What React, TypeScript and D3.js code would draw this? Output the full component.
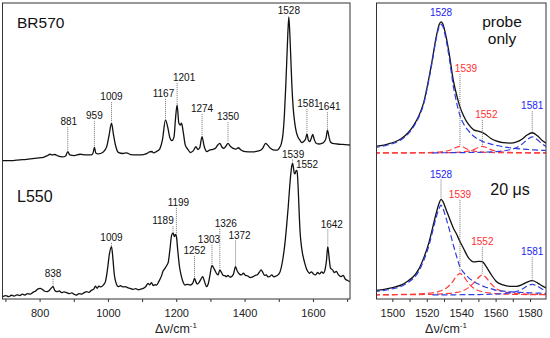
import React from 'react';
import * as d3 from 'd3';

// ---------------- Left panel data ----------------
const brWavenumber = [690, 720, 760, 790, 810, 822, 829, 836, 843, 852, 865, 875, 881, 887, 900, 917, 935, 950, 955, 959, 963, 970, 985, 995, 1002, 1009, 1015, 1022, 1030, 1042, 1053, 1065, 1080, 1095, 1110, 1120, 1127, 1132, 1140, 1150, 1158, 1167, 1174, 1180, 1186, 1192, 1196, 1201, 1206, 1210, 1214, 1219, 1225, 1232, 1240, 1248, 1256, 1262, 1267, 1274, 1280, 1288, 1296, 1306, 1314, 1320, 1326, 1332, 1338, 1344, 1350, 1356, 1365, 1373, 1380, 1388, 1400, 1420, 1440, 1452, 1460, 1466, 1475, 1485, 1494, 1500, 1506, 1511, 1515, 1519, 1522, 1525, 1528, 1531, 1534, 1537, 1541, 1545, 1550, 1555, 1560, 1566, 1573, 1577, 1581, 1585, 1589, 1593, 1598, 1602, 1607, 1615, 1625, 1632, 1637, 1641, 1645, 1650, 1656, 1670, 1685, 1707];
const brIntensity = [0.2, 0.3, 1.2, 2, 2.6, 3.8, 4.7, 4.2, 4.5, 3.5, 2.8, 3.5, 6.5, 4.2, 3.8, 4.7, 4.2, 4.2, 5.6, 9.5, 5.6, 4.9, 6.3, 10, 18, 26.2, 18, 9.7, 5.8, 5.2, 5.6, 4.5, 4.2, 4.2, 4.9, 6.3, 6.6, 5.6, 6.5, 8.3, 14.6, 28.5, 23, 16, 14.1, 16.7, 28.5, 38.9, 26.4, 25, 26.2, 20, 11, 8.3, 5.9, 7, 9.9, 8, 9, 16.9, 10.4, 6.5, 7.6, 8.1, 9, 11.1, 12.3, 9.7, 8.8, 10.4, 12.3, 10.4, 8.8, 8.3, 9.2, 7.6, 6.5, 6.3, 7, 9, 12.3, 11, 8.7, 7.6, 7.6, 9, 12, 19, 32, 52, 70, 88, 100, 88, 70, 52, 36, 27, 20, 16.5, 14.6, 12.8, 13.9, 15.3, 18.8, 14.6, 13.4, 15.3, 18.4, 15.3, 12.5, 11.8, 12.2, 13.4, 16, 21.5, 17.4, 13.2, 12.3, 11.8, 11.5, 11.1];

const l550Wavenumber = [690, 700, 708, 716, 724, 732, 741, 748, 756, 763, 771, 779, 786, 793, 800, 806, 812, 820, 826, 832, 838, 843, 849, 856, 863, 870, 878, 886, 893, 900, 907, 914, 922, 929, 936, 943, 950, 957, 962, 967, 972, 978, 985, 991, 997, 1003, 1009, 1013, 1017, 1022, 1029, 1035, 1042, 1049, 1056, 1064, 1072, 1080, 1088, 1095, 1102, 1110, 1116, 1121, 1126, 1131, 1137, 1141, 1148, 1155, 1160, 1166, 1171, 1175, 1180, 1185, 1189, 1193, 1196, 1199, 1203, 1208, 1214, 1219, 1224, 1231, 1239, 1245, 1249, 1252, 1256, 1260, 1265, 1270, 1276, 1281, 1287, 1292, 1297, 1303, 1307, 1311, 1316, 1321, 1326, 1331, 1336, 1341, 1345, 1350, 1355, 1360, 1366, 1372, 1377, 1383, 1389, 1395, 1401, 1408, 1415, 1423, 1430, 1436, 1441, 1447, 1452, 1457, 1462, 1467, 1471, 1478, 1484, 1491, 1497, 1503, 1510, 1516, 1521, 1526, 1530, 1534, 1537, 1539, 1541, 1544, 1546, 1549, 1552, 1554, 1556, 1558, 1561, 1565, 1569, 1574, 1579, 1583, 1588, 1594, 1600, 1606, 1612, 1618, 1624, 1629, 1634, 1638, 1642, 1646, 1650, 1656, 1661, 1667, 1673, 1681, 1687, 1693, 1700, 1707];
const l550Intensity = [0.2, 1.0, 0.3, 1.2, 0.6, 1.5, 1.0, 2.0, 1.4, 2.4, 2.0, 3.2, 4.0, 5.5, 6.0, 5.4, 4.2, 3.7, 4.3, 6.0, 7.2, 4.5, 3.7, 4.2, 3.0, 3.6, 3.0, 2.4, 2.8, 1.8, 1.4, 2.4, 2.0, 3.0, 3.7, 3.2, 4.6, 5.5, 7.5, 6.0, 7.5, 7.0, 8.3, 10.5, 18.8, 30, 35, 27, 16, 10, 7.2, 7.8, 7, 7.2, 6.5, 6, 5.3, 5.8, 5, 5.5, 6, 7.5, 9.5, 8.5, 10, 8, 8.5, 8.3, 11, 14.5, 18, 20, 22, 24, 33, 43, 44.5, 42, 43.5, 42, 32, 21, 14, 10, 8.3, 8.8, 8.3, 9, 11, 13, 10.5, 9, 10, 12, 14.1, 11, 7.2, 9, 15, 22, 20.5, 18.8, 16.5, 15.3, 18.8, 17, 15, 14.8, 14.1, 15, 13.8, 14.1, 16, 21, 18, 16, 15.3, 16.5, 15, 14.6, 13.5, 14.1, 15, 15.5, 17, 18.8, 17, 15, 15.3, 14, 14.1, 15.3, 14, 14.6, 15.5, 18, 25.7, 36, 48, 62, 75, 86, 91.5, 93, 90.5, 86, 85.5, 87.5, 88, 82, 72, 60, 45, 35, 29, 24, 20, 18, 16.5, 17.5, 16, 15.3, 17, 16, 17.5, 16.5, 19, 25, 35, 27, 20, 18.8, 17, 17.8, 15.5, 14.1, 15, 12.5, 11.5, 10.6];

const brPeaks = [881, 959, 1009, 1167, 1201, 1274, 1350, 1528, 1581, 1641];
const brLabelLevel = [24.8, 29, 42.2, 44.5, 55.6, 34.1, 28.3, 102.4, 37.6, 35.2];
const brLabelShift = [1, 0, 0, -2, 7, 0, 0, 0, 1.5, 2];

const l550Peaks = [838, 1009, 1189, 1199, 1252, 1303, 1326, 1372, 1539, 1552, 1642];
const l550LabelLevel = [14, 39, 50.5, 63.3, 29.7, 37.6, 48.7, 40.6, 96.8, 89.4, 48.2];
const l550LabelShift = [0, 0, -10, 2, 0, -3, 6, 4, 0.5, 10, 4];
const l550LabelLine = [true, true, true, true, true, true, true, true, true, false, true];

const leftMajorTicks = [800, 1000, 1200, 1400, 1600];
const leftMinorTicks = [700, 900, 1100, 1300, 1500, 1700];

// ---------------- Right panel data ----------------
const fitWavenumber = [1489, 1493, 1497, 1501, 1505, 1509, 1512, 1515, 1518, 1521, 1523, 1525, 1527, 1528, 1529, 1531, 1533, 1535, 1537, 1539, 1541, 1544, 1547, 1550, 1552, 1554, 1557, 1560, 1564, 1568, 1572, 1575, 1578, 1581, 1584, 1587, 1591];

const probeTotal = [4.7, 5.5, 6.7, 8.2, 10.8, 15.3, 20.4, 27.4, 38, 56.1, 70.2, 85.4, 96.1, 97.8, 96.4, 86.4, 72.1, 55.2, 43.6, 34.4, 28, 21.3, 17.3, 16.2, 15.4, 13.8, 10.8, 9, 7.7, 7.4, 8.3, 10.3, 13.4, 15.1, 12.8, 9.2, 5.9];
const probeBand1528 = [4, 4.8, 6, 7.5, 10, 14.5, 19.5, 26.5, 37, 55, 69, 84, 94.5, 96, 94.5, 84, 69, 51, 38, 28, 22, 16.5, 12.5, 10, 8.7, 7.8, 6.6, 5.8, 4.7, 3.9, 3.3, 3.0, 2.7, 2.4, 2.2, 2.0, 1.7];
const probeBand1539 = [0.05, 0.06, 0.07, 0.085, 0.11, 0.135, 0.165, 0.21, 0.27, 0.36, 0.44, 0.56, 0.74, 0.86, 1.0, 1.4, 2.05, 3.05, 4.3, 5, 4.3, 2.5, 1.4, 0.86, 0.64, 0.5, 0.36, 0.27, 0.19, 0.14, 0.11, 0.09, 0.08, 0.07, 0.06, 0.05, 0.05];
const probeBand1552 = [0.03, 0.04, 0.04, 0.05, 0.06, 0.07, 0.08, 0.09, 0.11, 0.13, 0.15, 0.17, 0.19, 0.21, 0.23, 0.27, 0.33, 0.4, 0.5, 0.64, 0.86, 1.4, 2.5, 4.3, 5, 4.3, 2.5, 1.4, 0.74, 0.45, 0.29, 0.23, 0.18, 0.14, 0.12, 0.1, 0.08];
const probeBand1581 = [null, null, null, null, null, null, null, null, null, null, 0.15, 0.16, 0.17, 0.18, 0.18, 0.2, 0.22, 0.24, 0.26, 0.28, 0.31, 0.36, 0.42, 0.5, 0.57, 0.66, 0.82, 1.05, 1.53, 2.4, 4.1, 6.5, 9.9, 12, 9.9, 6.5, 3.6];

const usTotal = [3.2, 3.8, 4.7, 5.9, 7.5, 10.7, 13.8, 19.1, 27.9, 39.3, 49.6, 60.1, 68.9, 71.4, 70, 63.5, 56.9, 50.4, 45.5, 39.9, 34.9, 27.7, 24.7, 25.1, 24.9, 21.7, 15.5, 10.3, 7.5, 6.5, 6.5, 7.7, 9.6, 10.7, 9.1, 6.6, 4.4];
const usBand1528 = [2.5, 3.1, 3.9, 5, 6.5, 9.5, 12.5, 17.5, 26, 37, 47, 57, 65, 67, 65, 57, 48, 38, 29, 21, 17, 13, 10, 8, 6.8, 5.8, 4.8, 3.5, 2.9, 2.4, 2.0, 1.85, 1.7, 1.55, 1.45, 1.35, 1.2];
const usBand1539 = [0.19, 0.23, 0.27, 0.33, 0.41, 0.53, 0.65, 0.82, 1.1, 1.4, 1.7, 2.1, 2.8, 3.2, 3.7, 5.1, 7.3, 10.4, 14.1, 16, 14.1, 8.7, 5.1, 3.2, 2.4, 1.85, 1.35, 1.0, 0.74, 0.55, 0.44, 0.37, 0.32, 0.28, 0.25, 0.22, 0.19];
const usBand1552 = [0.11, 0.13, 0.15, 0.17, 0.2, 0.24, 0.28, 0.33, 0.39, 0.47, 0.53, 0.61, 0.71, 0.77, 0.84, 1.0, 1.2, 1.5, 1.9, 2.4, 3.3, 5.5, 9, 13.3, 15, 13.3, 8.5, 4.8, 2.6, 1.6, 1.1, 0.85, 0.68, 0.55, 0.46, 0.39, 0.32];
const usBand1581 = [null, null, null, null, null, null, null, null, null, null, 0.1, 0.11, 0.11, 0.12, 0.12, 0.13, 0.14, 0.16, 0.17, 0.19, 0.21, 0.24, 0.28, 0.33, 0.38, 0.44, 0.55, 0.7, 1.0, 1.6, 2.7, 4.3, 6.6, 8, 6.6, 4.3, 2.4];

const rightMajorTicks = [1500, 1520, 1540, 1560, 1580];
const rightMinorTicks = [1510, 1530, 1550, 1570];

const BLUE = '#2f3ce0';
const RED = '#ff3b3b';
const BLUE_TXT = '#2323f5';
const RED_TXT = '#ff3030';
const FONT = '"Liberation Sans", Arial, Helvetica, sans-serif';

type Pt = [number, number | null];
const zip = (xs: number[], ys: (number | null)[]): Pt[] => xs.map((x, i) => [x, ys[i]]);

export default function App() {
  const leftX = d3.scaleLinear().domain([690, 1707]).range([2.5, 350]);
  const brY = d3.scaleLinear().domain([0, 100]).range([161, 17]);
  const l550Y = d3.scaleLinear().domain([0, 100]).range([297, 153]);
  const rightX = d3.scaleLinear().domain([1490.5, 1589]).range([376.5, 546]);
  const probeY = d3.scaleLinear().domain([0, 100]).range([153, 19]);
  const usY = d3.scaleLinear().domain([0, 100]).range([295, 161]);

  const axisY = 299;
  const topY = 3;

  const mkLine = (xs: d3.ScaleLinear<number, number>, ys: d3.ScaleLinear<number, number>) =>
    d3.line<Pt>()
      .defined(d => d[1] !== null)
      .x(d => xs(d[0]))
      .y(d => ys(d[1] as number))
      .curve(d3.curveMonotoneX);

  const brPath = mkLine(leftX, brY)(zip(brWavenumber, brIntensity)) || '';
  const l550Path = mkLine(leftX, l550Y)(zip(l550Wavenumber, l550Intensity)) || '';

  const pLine = mkLine(rightX, probeY);
  const uLine = mkLine(rightX, usY);

  const valueAt = (xs: number[], ys: (number | null)[], x: number) => {
    const i = xs.indexOf(x);
    return i >= 0 ? (ys[i] as number) : 0;
  };

  const peakLabel = (
    key: string, x: number, textY: number, lineEnd: number, dx: number, color: string, line: boolean
  ) => (
    <g key={key}>
      {line && lineEnd - (textY + 2) > 0.5 && (
        <line x1={x} x2={x} y1={textY + 2} y2={lineEnd} stroke="#666" strokeWidth={0.9} strokeDasharray="1,1" />
      )}
      <text x={x + dx} y={textY} textAnchor="middle" fontSize={10} fill={color} fontFamily={FONT}>{key.split('-')[1]}</text>
    </g>
  );

  return (
    <svg width={550} height={338} style={{ position: 'absolute', left: 0, top: 0, background: '#fff' }}>
      <defs>
        <clipPath id="clipL"><rect x={2.5} y={topY} width={347.5} height={axisY - topY} /></clipPath>
        <clipPath id="clipR"><rect x={376.5} y={topY} width={169.5} height={axisY - topY} /></clipPath>
      </defs>
      <rect width={550} height={338} fill="#fff" />

      {/* ---------- Left panel ---------- */}
      <g clipPath="url(#clipL)">
        <path d={brPath} fill="none" stroke="#111" strokeWidth={1.3} />
        <path d={l550Path} fill="none" stroke="#111" strokeWidth={1.3} />
      </g>
      <rect x={2.5} y={topY} width={347.5} height={axisY - topY} fill="none" stroke="#333" strokeWidth={1} />
      {leftMajorTicks.concat(leftMinorTicks).map(t => (
        <line key={'lt' + t} x1={leftX(t)} x2={leftX(t)} y1={axisY} y2={axisY + 3} stroke="#333" strokeWidth={1} />
      ))}
      {leftMajorTicks.map(t => (
        <text key={'ll' + t} x={leftX(t)} y={317} textAnchor="middle" fontSize={11} fill="#222" fontFamily={FONT}>{t}</text>
      ))}
      <text x={176} y={333} textAnchor="middle" fontSize={12.5} fill="#222" fontFamily={FONT}>
        Δν/cm<tspan dy={-5} fontSize={8}>-1</tspan>
      </text>
      <text x={17} y={28} fontSize={15.5} fill="#111" fontFamily={FONT}>BR570</text>
      <text x={17} y={202} fontSize={16} fill="#111" fontFamily={FONT}>L550</text>

      {brPeaks.map((p, i) => {
        const ty = brY(brLabelLevel[i]);
        const ey = brY(valueAt(brWavenumber, brIntensity, p)) - 1;
        return peakLabel('br-' + p, leftX(p), ty, ey, brLabelShift[i], '#111', p !== 1528);
      })}
      {l550Peaks.map((p, i) => {
        const ty = l550Y(l550LabelLevel[i]);
        const ey = l550Y(valueAt(l550Wavenumber, l550Intensity, p)) - 1;
        return peakLabel('l5-' + p, leftX(p), ty, ey, l550LabelShift[i], '#111', l550LabelLine[i]);
      })}

      {/* ---------- Right panel ---------- */}
      <g clipPath="url(#clipR)">
        <path d={pLine(zip(fitWavenumber, probeBand1539)) || ''} fill="none" stroke={RED} strokeWidth={1.2} strokeDasharray="6,3" />
        <path d={pLine(zip(fitWavenumber, probeBand1552)) || ''} fill="none" stroke={RED} strokeWidth={1.2} strokeDasharray="6,3" />
        <path d={pLine(zip(fitWavenumber, probeBand1581)) || ''} fill="none" stroke={BLUE} strokeWidth={1.2} strokeDasharray="6,3" />
        <path d={pLine(zip(fitWavenumber, probeTotal)) || ''} fill="none" stroke="#111" strokeWidth={1.3} />
        <path d={pLine(zip(fitWavenumber, probeBand1528)) || ''} fill="none" stroke={BLUE} strokeWidth={1.2} strokeDasharray="6,3" />

        <path d={uLine(zip(fitWavenumber, usBand1539)) || ''} fill="none" stroke={RED} strokeWidth={1.2} strokeDasharray="6,3" />
        <path d={uLine(zip(fitWavenumber, usBand1552)) || ''} fill="none" stroke={RED} strokeWidth={1.2} strokeDasharray="6,3" />
        <path d={uLine(zip(fitWavenumber, usBand1581)) || ''} fill="none" stroke={BLUE} strokeWidth={1.2} strokeDasharray="6,3" />
        <path d={uLine(zip(fitWavenumber, usTotal)) || ''} fill="none" stroke="#111" strokeWidth={1.3} />
        <path d={uLine(zip(fitWavenumber, usBand1528)) || ''} fill="none" stroke={BLUE} strokeWidth={1.2} strokeDasharray="6,3" />
      </g>
      <rect x={376.5} y={topY} width={169.5} height={axisY - topY} fill="none" stroke="#333" strokeWidth={1} />
      {rightMajorTicks.concat(rightMinorTicks).map(t => (
        <line key={'rt' + t} x1={rightX(t)} x2={rightX(t)} y1={axisY} y2={axisY + 3} stroke="#333" strokeWidth={1} />
      ))}
      {rightMajorTicks.map(t => (
        <text key={'rl' + t} x={rightX(t)} y={317} textAnchor="middle" fontSize={11} fill="#222" fontFamily={FONT}>{t}</text>
      ))}
      <text x={446} y={333} textAnchor="middle" fontSize={12.5} fill="#222" fontFamily={FONT}>
        Δν/cm<tspan dy={-5} fontSize={8}>-1</tspan>
      </text>

      <text x={502} y={27} textAnchor="middle" fontSize={15.5} fill="#111" fontFamily={FONT}>probe</text>
      <text x={502} y={44} textAnchor="middle" fontSize={15.5} fill="#111" fontFamily={FONT}>only</text>
      <text x={510} y={195} textAnchor="middle" fontSize={16} fill="#111" fontFamily={FONT}>20 μs</text>

      {/* probe only labels */}
      {peakLabel('p-1528', rightX(1528), probeY(102.3), probeY(100), 0, BLUE_TXT, false)}
      {peakLabel('p-1539', rightX(1539), probeY(60.5), probeY(valueAt(fitWavenumber, probeBand1539, 1539)) - 1, 6, RED_TXT, true)}
      {peakLabel('p-1552', rightX(1552), probeY(26.2), probeY(valueAt(fitWavenumber, probeBand1552, 1552)) - 1, 4, RED_TXT, true)}
      {peakLabel('p-1581', rightX(1581), probeY(32.6), probeY(valueAt(fitWavenumber, probeTotal, 1581)) - 1, 0, BLUE_TXT, true)}

      {/* 20 us labels */}
      {peakLabel('u-1528', rightX(1528), usY(87.6), usY(valueAt(fitWavenumber, usTotal, 1528)) - 1, 0, BLUE_TXT, true)}
      {peakLabel('u-1539', rightX(1539), usY(72.5), usY(valueAt(fitWavenumber, usBand1539, 1539)) - 1, 0, RED_TXT, true)}
      {peakLabel('u-1552', rightX(1552), usY(37.1), usY(valueAt(fitWavenumber, usBand1552, 1552)) - 1, 0, RED_TXT, true)}
      {peakLabel('u-1581', rightX(1581), usY(29.6), usY(valueAt(fitWavenumber, usTotal, 1581)) - 1, 0, BLUE_TXT, true)}
    </svg>
  );
}
